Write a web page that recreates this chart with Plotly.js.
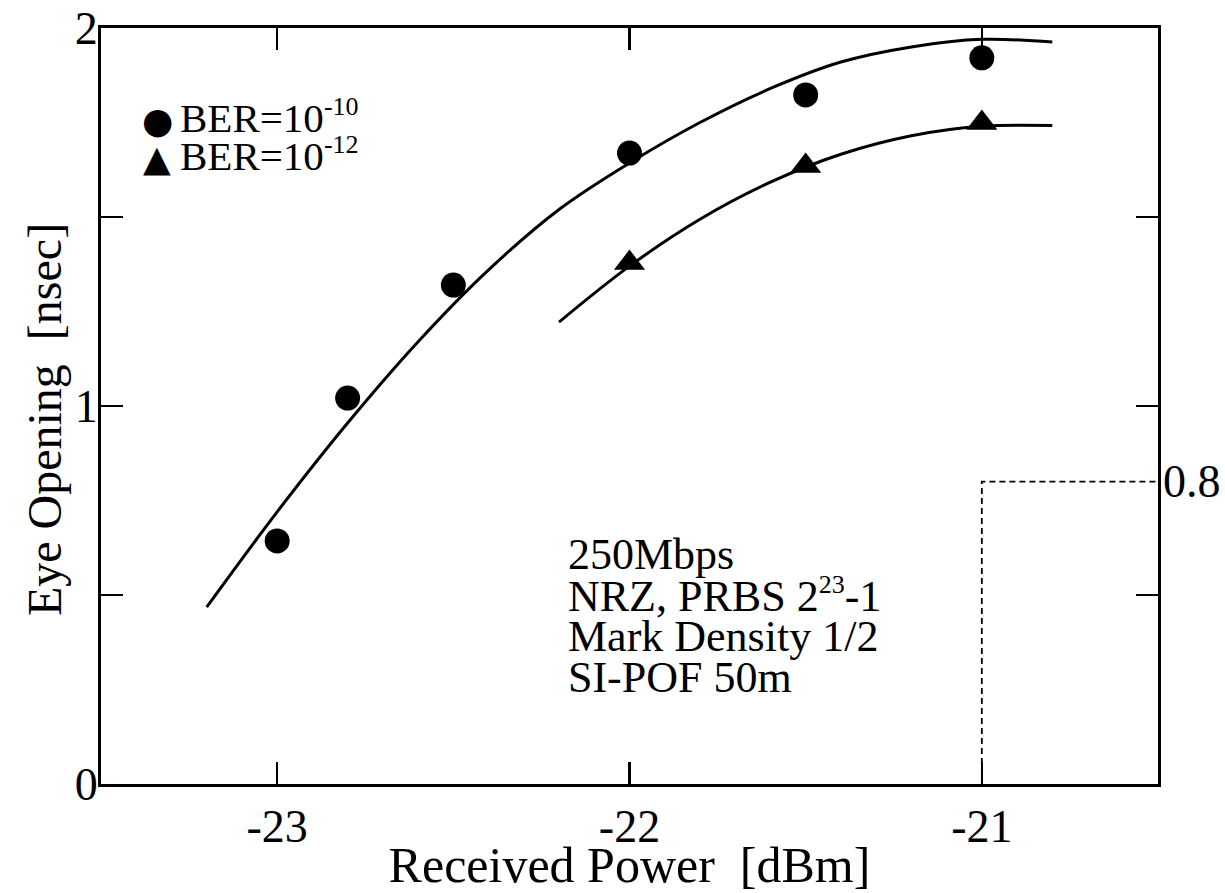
<!DOCTYPE html>
<html>
<head>
<meta charset="utf-8">
<script src="https://cdn.plot.ly/plotly-3.0.1.min.js"></script>
<style>html,body{margin:0;padding:0;background:#fff;}#chart{width:1225px;height:893px;}</style>
</head>
<body>
<div id="chart"></div>
<script>
// Measured data points
const powerBER10 = [-23.0, -22.8, -22.5, -22.0, -21.5, -21.0];
const eyeBER10   = [0.643, 1.021, 1.32, 1.669, 1.823, 1.921];
const powerBER12 = [-22.0, -21.5, -21.0];
const eyeBER12   = [1.378, 1.635, 1.749];

// Fitted curves
const fitX10 = [-23.2, -23.0, -22.8, -22.6, -22.4, -22.2, -22.0, -21.8, -21.6, -21.4, -21.2, -21.0, -20.8];
const fitY10 = [0.468, 0.72, 0.955, 1.17, 1.36, 1.52, 1.643, 1.75, 1.84, 1.91, 1.95, 1.97, 1.963];
const fitX12 = [-22.2, -22.0, -21.8, -21.6, -21.4, -21.2, -21.0, -20.8];
const fitY12 = [1.222, 1.37, 1.494, 1.592, 1.666, 1.715, 1.740, 1.742];

// Threshold (dashed) guide
const guideX = [-21, -21, -20.5];
const guideY = [0, 0.8, 0.8];
const guideLabel = '0.8';

// Axis ticks
const yTickVals = [0, 0.5, 1, 1.5, 2];
const yTickText = ['0', '', '1', '', '2'];
const xTickVals = [-23, -22, -21];
const xTickText = ['-23', '-22', '-21'];

const xTitle = 'Received Power\u00a0\u00a0[dBm]';
const yTitle = 'Eye Opening\u00a0\u00a0[nsec]';

const legendNames = ['BER=10<sup><span style="font-size:26px">-10</span></sup>', 'BER=10<sup><span style="font-size:26px">-12</span></sup>'];
const legendSymbols = ['\u25CF', '\u25B2'];
const infoLines = ['250Mbps', 'NRZ, PRBS 2<sup><span style="font-size:26px">23</span></sup>-1', 'Mark Density 1/2', 'SI-POF 50m'];
const infoX = -22.18;
const infoY = [0.606, 0.500, 0.389, 0.283];

const FONT = "'Liberation Serif', 'Times New Roman', Times, serif";
const SYMFONT = "'DejaVu Sans', sans-serif";

const traces = [
  {x: fitX10, y: fitY10, mode: 'lines', line: {color: '#000', width: 3, shape: 'spline'}, showlegend: false, hoverinfo: 'skip'},
  {x: fitX12, y: fitY12, mode: 'lines', line: {color: '#000', width: 3, shape: 'spline'}, showlegend: false, hoverinfo: 'skip'},
  {x: guideX, y: guideY, mode: 'lines', line: {color: '#000', width: 1.8, dash: '6px,4px'}, showlegend: false, hoverinfo: 'skip'},
  {x: powerBER10, y: eyeBER10, mode: 'markers', name: 'BER=10^-10', showlegend: false, marker: {symbol: 'circle', size: 25, color: '#000'}},
  {x: powerBER12, y: eyeBER12, mode: 'markers', name: 'BER=10^-12', showlegend: false, marker: {symbol: 'triangle-up', size: 27, color: '#000'}}
];

const annotations = infoLines.map((t, i) => ({
  x: infoX, y: infoY[i], xref: 'x', yref: 'y', text: t, showarrow: false,
  xanchor: 'left', yanchor: 'middle', font: {family: FONT, size: 44, color: '#000'}
}));
annotations.push({
  x: 1, y: guideY[1], xref: 'paper', yref: 'y', text: guideLabel, showarrow: false,
  xanchor: 'left', yanchor: 'middle', xshift: 3, font: {family: FONT, size: 46, color: '#000'}
});
// y-axis title
annotations.push({
  x: -0.0535, y: 0.482, xref: 'paper', yref: 'paper', text: yTitle, showarrow: false,
  textangle: -90, xanchor: 'center', yanchor: 'middle', font: {family: FONT, size: 48, color: '#000'}
});
// manual legend (symbols + labels)
const legRowY = [0.878, 0.828];
legendNames.forEach((n, i) => {
  annotations.push({
    x: 0.053, y: legRowY[i], xref: 'paper', yref: 'paper', text: legendSymbols[i], showarrow: false,
    xanchor: 'center', yanchor: 'middle', font: {family: SYMFONT, size: 36, color: '#000'}
  });
  annotations.push({
    x: 0.0728, y: legRowY[i], xref: 'paper', yref: 'paper', text: n, showarrow: false,
    xanchor: 'left', yanchor: 'middle', yshift: 4, font: {family: FONT, size: 41, color: '#000'}
  });
});

const layout = {
  width: 1225, height: 893,
  margin: {l: 101, r: 67, t: 28, b: 109},
  paper_bgcolor: '#fff', plot_bgcolor: '#fff',
  font: {family: FONT, color: '#000'},
  showlegend: false,
  xaxis: {
    range: [-23.5, -20.5], tickvals: xTickVals, ticktext: xTickText,
    ticks: 'inside', ticklen: 22, tickwidth: 2.5, tickcolor: '#000',
    showline: true, linewidth: 3, linecolor: '#000', mirror: 'ticks',
    showgrid: false, zeroline: false,
    tickfont: {family: FONT, size: 46, color: '#000'},
    title: {text: xTitle, font: {family: FONT, size: 50, color: '#000'}, standoff: 6}
  },
  yaxis: {
    range: [0, 2], tickvals: yTickVals, ticktext: yTickText,
    ticks: 'inside', ticklen: 22, tickwidth: 2.5, tickcolor: '#000',
    showline: true, linewidth: 3, linecolor: '#000', mirror: 'ticks',
    showgrid: false, zeroline: false, ticklabelstandoff: -9,
    tickfont: {family: FONT, size: 46, color: '#000'}
  },
  annotations: annotations
};

Plotly.newPlot('chart', traces, layout, {displayModeBar: false, staticPlot: true});
</script>
</body>
</html>
